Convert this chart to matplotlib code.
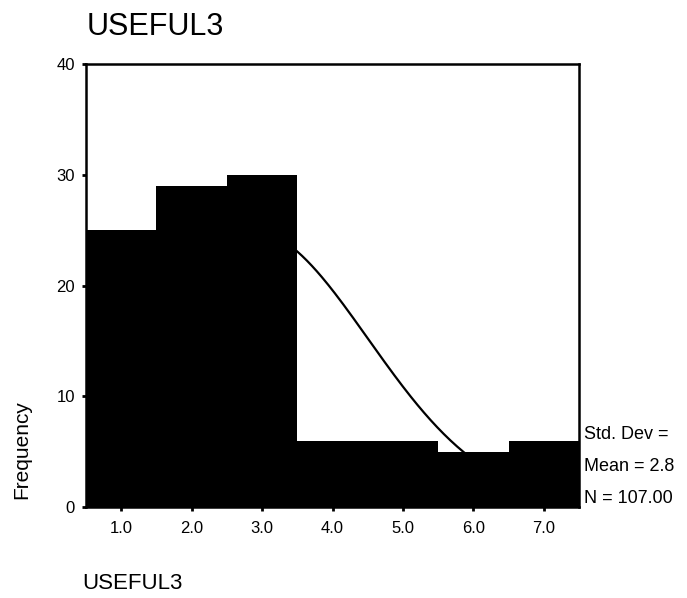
import numpy as np
import matplotlib
matplotlib.use("Agg")
import matplotlib.pyplot as plt

plt.rcParams['font.family'] = ['Liberation Sans', 'DejaVu Sans']

categories = [1.0, 2.0, 3.0, 4.0, 5.0, 6.0, 7.0]
frequencies = [25, 29, 30, 6, 6, 5, 6]
tick_labels = ["1.0", "2.0", "3.0", "4.0", "5.0", "6.0", "7.0"]
y_ticks = [0, 10, 20, 30, 40]
mean_val = 2.8
std_val = 1.7
n_val = 107

W, H = 687, 598
fig = plt.figure(figsize=(W / 100, H / 100), dpi=100)
left, right, top, bottom = 86, 579, 64, 507
ax = fig.add_axes([left / W, 1 - bottom / H, (right - left) / W, (bottom - top) / H])

ax.bar(categories, frequencies, width=1.0, color='black', edgecolor='black', linewidth=0)

xs = np.linspace(0.5, 7.5, 300)
pdf = n_val * 1.0 / (std_val * np.sqrt(2 * np.pi)) * np.exp(-(xs - mean_val) ** 2 / (2 * std_val ** 2))
ax.plot(xs, pdf, color='black', linewidth=1.6)

ax.set_xlim(0.5, 7.5)
ax.set_ylim(0, 40)
ax.set_xticks(categories)
ax.set_xticklabels(tick_labels, fontsize=12)
ax.set_yticks(y_ticks)
ax.set_yticklabels([str(v) for v in y_ticks], fontsize=12)
ax.tick_params(axis='x', direction='out', length=3, width=2, color='black', pad=7)
ax.tick_params(axis='y', direction='out', length=3, width=2, color='black', pad=5)
for s in ax.spines.values():
    s.set_linewidth(1.8)
    s.set_color('black')

fig.text(87 / W, 1 - 35 / H, "USEFUL3", fontsize=22, ha='left', va='baseline')
fig.text(22 / W, 1 - 450 / H, "Frequency", fontsize=15, rotation=90, ha='center', va='center')
fig.text(82 / W, 1 - 589 / H, "USEFUL3", fontsize=16, ha='left', va='baseline')

fig.text(584 / W, 1 - 439 / H, "Std. Dev = ", fontsize=13, ha='left', va='baseline')
fig.text(584 / W, 1 - 471 / H, f"Mean = {mean_val}", fontsize=13, ha='left', va='baseline')
fig.text(584 / W, 1 - 503 / H, f"N = {n_val:.2f}", fontsize=13, ha='left', va='baseline')

fig.savefig("out.png", dpi=100)
